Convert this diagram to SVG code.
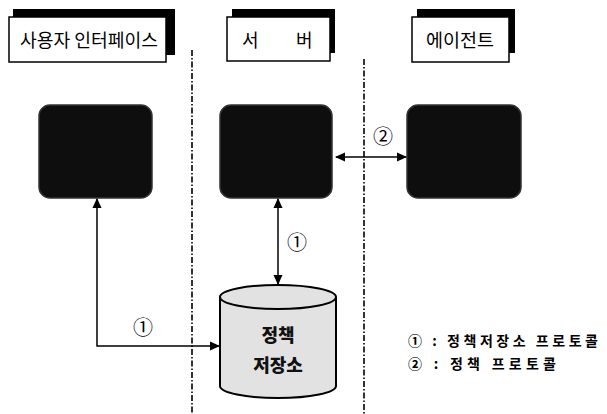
<svg xmlns="http://www.w3.org/2000/svg" width="607" height="414" viewBox="0 0 607 414">
<style>
.hdr-shadow{fill:#000}
.hdr{fill:#fff;stroke:#000;stroke-width:1.5}
.hdr-text{font-family:"Noto Sans CJK KR","Noto Sans",sans-serif;font-size:18px;fill:#000}
.node{fill:#0e0e0e;stroke:#333;stroke-width:1.5}
.sep{stroke:#000;stroke-width:1.6;stroke-dasharray:6,2,1.5,2;fill:none}
.conn{stroke:#000;stroke-width:1.5;fill:none}
.lbl{font-family:"Noto Sans CJK KR","Noto Sans",sans-serif;font-size:20px;fill:#000}
.legend{font-family:"Noto Sans CJK KR","Noto Sans",sans-serif;font-size:14px;font-weight:bold;fill:#000}
.db{fill:#e2e2e2;stroke:#000;stroke-width:2}
.dbtext{font-family:"Noto Sans CJK KR","Noto Sans",sans-serif;font-size:18px;font-weight:900;fill:#111}
</style>
<defs>
<marker id="ah" markerWidth="10" markerHeight="10" refX="9" refY="5" orient="auto-start-reverse" markerUnits="userSpaceOnUse">
<path d="M0,0.5 L10,5 L0,9.5 Z" fill="#000"/>
</marker>
</defs>

<g id="separators">
<line class="sep" x1="192" y1="50" x2="192" y2="414"/>
<line class="sep" x1="364" y1="59" x2="364" y2="414"/>
</g>

<g id="hdr-ui">
<rect class="hdr-shadow" x="13" y="9" width="162" height="46"/>
<rect class="hdr" x="9" y="17" width="157" height="45"/>
<text class="hdr-text" x="20" y="47" textLength="138" lengthAdjust="spacingAndGlyphs">사용자 인터페이스</text>
</g>
<g id="hdr-server">
<rect class="hdr-shadow" x="232" y="9" width="103" height="44"/>
<rect class="hdr" x="227" y="17" width="103" height="44"/>
<text class="hdr-text" x="242" y="47">서</text>
<text class="hdr-text" x="296" y="47">버</text>
</g>
<g id="hdr-agent">
<rect class="hdr-shadow" x="417" y="9" width="98" height="44"/>
<rect class="hdr" x="412" y="17" width="97" height="45"/>
<text class="hdr-text" x="426" y="47" textLength="68" lengthAdjust="spacingAndGlyphs">에이전트</text>
</g>

<g id="node-ui">
<rect class="node" x="39" y="105" width="113" height="93" rx="11"/>
</g>
<g id="node-server">
<rect class="node" x="220" y="105" width="112" height="93" rx="11"/>
</g>
<g id="node-agent">
<rect class="node" x="407" y="105" width="114" height="93" rx="11"/>
</g>

<g id="db">
<path class="db" d="M220,297 L220,386 A58,12 0 0 0 336,386 L336,297"/>
<ellipse class="db" cx="278" cy="297" rx="58" ry="12"/>
<text class="dbtext" x="278" y="342" text-anchor="middle">정책</text>
<text class="dbtext" x="278" y="372" text-anchor="middle">저장소</text>
</g>

<g id="connectors">
<line class="conn" x1="336" y1="157" x2="406" y2="157" marker-start="url(#ah)" marker-end="url(#ah)"/>
<line class="conn" x1="278" y1="199" x2="278" y2="284" marker-start="url(#ah)" marker-end="url(#ah)"/>
<polyline class="conn" points="97,199 97,346 219,346" marker-start="url(#ah)" marker-end="url(#ah)"/>
<text class="lbl" x="383" y="144" text-anchor="middle">②</text>
<text class="lbl" x="297" y="250" text-anchor="middle">①</text>
<text class="lbl" x="143" y="335" text-anchor="middle">①</text>
</g>

<g id="legend">
<text class="legend" x="408" y="346" textLength="190" lengthAdjust="spacing">① : 정책저장소 프로토콜</text>
<text class="legend" x="408" y="369" textLength="148" lengthAdjust="spacing">② : 정책 프로토콜</text>
</g>
</svg>
